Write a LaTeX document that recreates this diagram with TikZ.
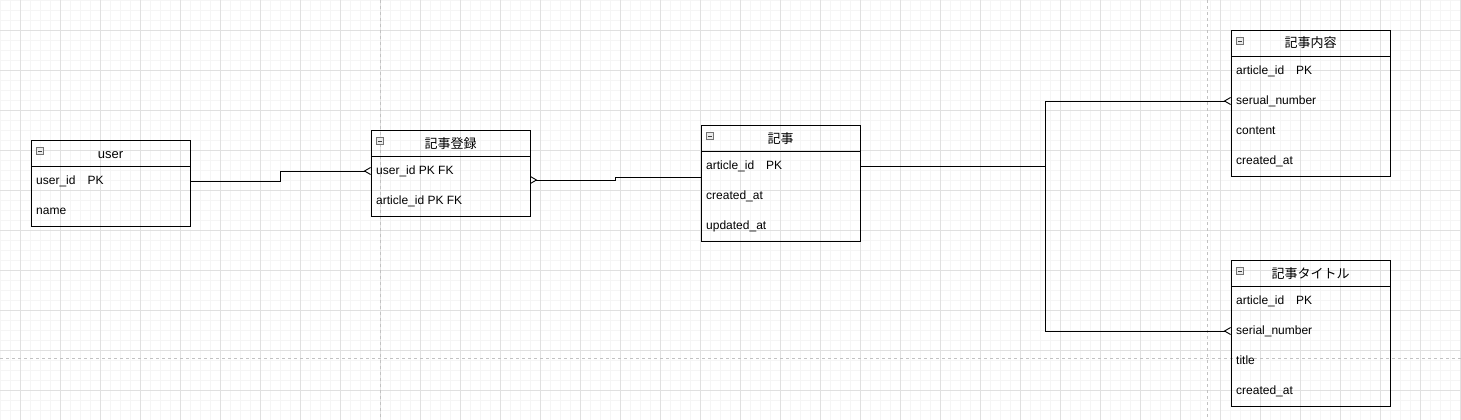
\documentclass[tikz,border=0pt]{standalone}
\usepackage{fontspec}
\setmainfont{Liberation Sans}
\newfontfamily\jpfont{Noto Sans CJK JP}
\usetikzlibrary{arrows.meta,positioning}

\definecolor{minorline}{HTML}{F5F5F5}
\definecolor{majorline}{HTML}{E0E0E0}
\definecolor{pageline}{HTML}{C2C2C2}

\begin{document}
\begin{tikzpicture}[x=1pt, y=-1pt,
  crow/.tip={Straight Barb[reversed, length=6pt, width=7pt]},
  link/.style={line width=0.9pt},
  tablehead/.style={draw, line width=0.9pt, minimum width=159pt, minimum height=26pt,
    inner sep=0pt, outer sep=0pt, text height=10pt, text depth=0pt,
    font=\fontsize{13}{15}\selectfont},
  tablebody/.style={draw, line width=0.9pt, minimum width=159pt, inner sep=0pt, outer sep=0pt},
  field/.style={anchor=west, inner sep=0pt, text height=9pt, text depth=2.5pt,
    font=\fontsize{12}{14}\selectfont},
  minusbox/.style={draw=black!55, fill=black!8, line width=0.5pt, minimum size=7pt,
    inner sep=0pt, path picture={\draw[black!75, line width=0.7pt]
      ([xshift=1.5pt]path picture bounding box.west) --
      ([xshift=-1.5pt]path picture bounding box.east);}},
  pagebreak/.style={pageline, line width=0.8pt, dash pattern=on 3pt off 3pt}]
  \useasboundingbox (0,0) rectangle (1461,420);

  % grid
  \foreach \gx in {0,10,...,1460} \draw[minorline, line width=0.7pt] (\gx,0) -- (\gx,420);
  \foreach \gy in {0,10,...,420} \draw[minorline, line width=0.7pt] (0,\gy) -- (1461,\gy);
  \foreach \gx in {20,60,...,1460} \draw[majorline, line width=0.8pt] (\gx,0) -- (\gx,420);
  \foreach \gy in {30,70,...,420} \draw[majorline, line width=0.8pt] (0,\gy) -- (1461,\gy);

  % page breaks
  \draw[pagebreak] (380.5,0) -- (380.5,420);
  \draw[pagebreak] (1207.5,0) -- (1207.5,420);
  \draw[pagebreak] (0,358.5) -- (1461,358.5);

  % user
  \node[tablehead, anchor=north west] (userh) at (31,140) {user};
  \node[tablebody, minimum height=60pt, below=0pt of userh] (userb) {};
  \node[minusbox] (userm) at ([xshift=8.5pt, yshift=-11pt]userh.north west) {};
  \node[field] (uid) at (36,181) {user\_id\hspace{12pt}PK};
  \node[field] (uname) at (36,211) {name};

  % 記事登録
  \node[tablehead, anchor=north west] (regh) at (371,130) {\jpfont 記事登録};
  \node[tablebody, minimum height=60pt, below=0pt of regh] (regb) {};
  \node[minusbox] (regm) at ([xshift=8.5pt, yshift=-11pt]regh.north west) {};
  \node[field] (reguid) at (376,171) {user\_id PK FK};
  \node[field] (regaid) at (376,201) {article\_id PK FK};

  % 記事
  \node[tablehead, anchor=north west] (arth) at (701,125) {\jpfont 記事};
  \node[tablebody, minimum height=90pt, below=0pt of arth] (artb) {};
  \node[minusbox] (artm) at ([xshift=8.5pt, yshift=-11pt]arth.north west) {};
  \node[field] (aid) at (706,166) {article\_id\hspace{12pt}PK};
  \node[field] (acreated) at (706,196) {created\_at};
  \node[field] (aupdated) at (706,226) {updated\_at};

  % 記事内容
  \node[tablehead, anchor=north west] (cnth) at (1231,30) {\jpfont 記事内容};
  \node[tablebody, minimum height=120pt, below=0pt of cnth] (cntb) {};
  \node[minusbox] (cntm) at ([xshift=8.5pt, yshift=-11pt]cnth.north west) {};
  \node[field] (caid) at (1236,71) {article\_id\hspace{12pt}PK};
  \node[field] (cserial) at (1236,101) {serual\_number};
  \node[field] (ccontent) at (1236,131) {content};
  \node[field] (ccreated) at (1236,161) {created\_at};

  % 記事タイトル
  \node[tablehead, anchor=north west] (ttlh) at (1231,260) {\jpfont 記事タイトル};
  \node[tablebody, minimum height=120pt, below=0pt of ttlh] (ttlb) {};
  \node[minusbox] (ttlm) at ([xshift=8.5pt, yshift=-11pt]ttlh.north west) {};
  \node[field] (taid) at (1236,301) {article\_id\hspace{12pt}PK};
  \node[field] (tserial) at (1236,331) {serial\_number};
  \node[field] (ttitle) at (1236,361) {title};
  \node[field] (tcreated) at (1236,391) {created\_at};

  % relations
  \draw[link, -crow] (userb.east |- uid) -- ++(90,0) |- (regb.west |- reguid);
  \draw[link, crow-] ([yshift=6pt]regb.east) -- ++(85,0) |- ([yshift=19pt]artb.west);
  \coordinate (fork) at (1045.5,166);
  \draw[link] (artb.east |- aid) -- (fork);
  \draw[link, -crow] (fork) |- (cntb.west |- cserial);
  \draw[link, -crow] (fork) |- (ttlb.west |- tserial);
\end{tikzpicture}
\end{document}
